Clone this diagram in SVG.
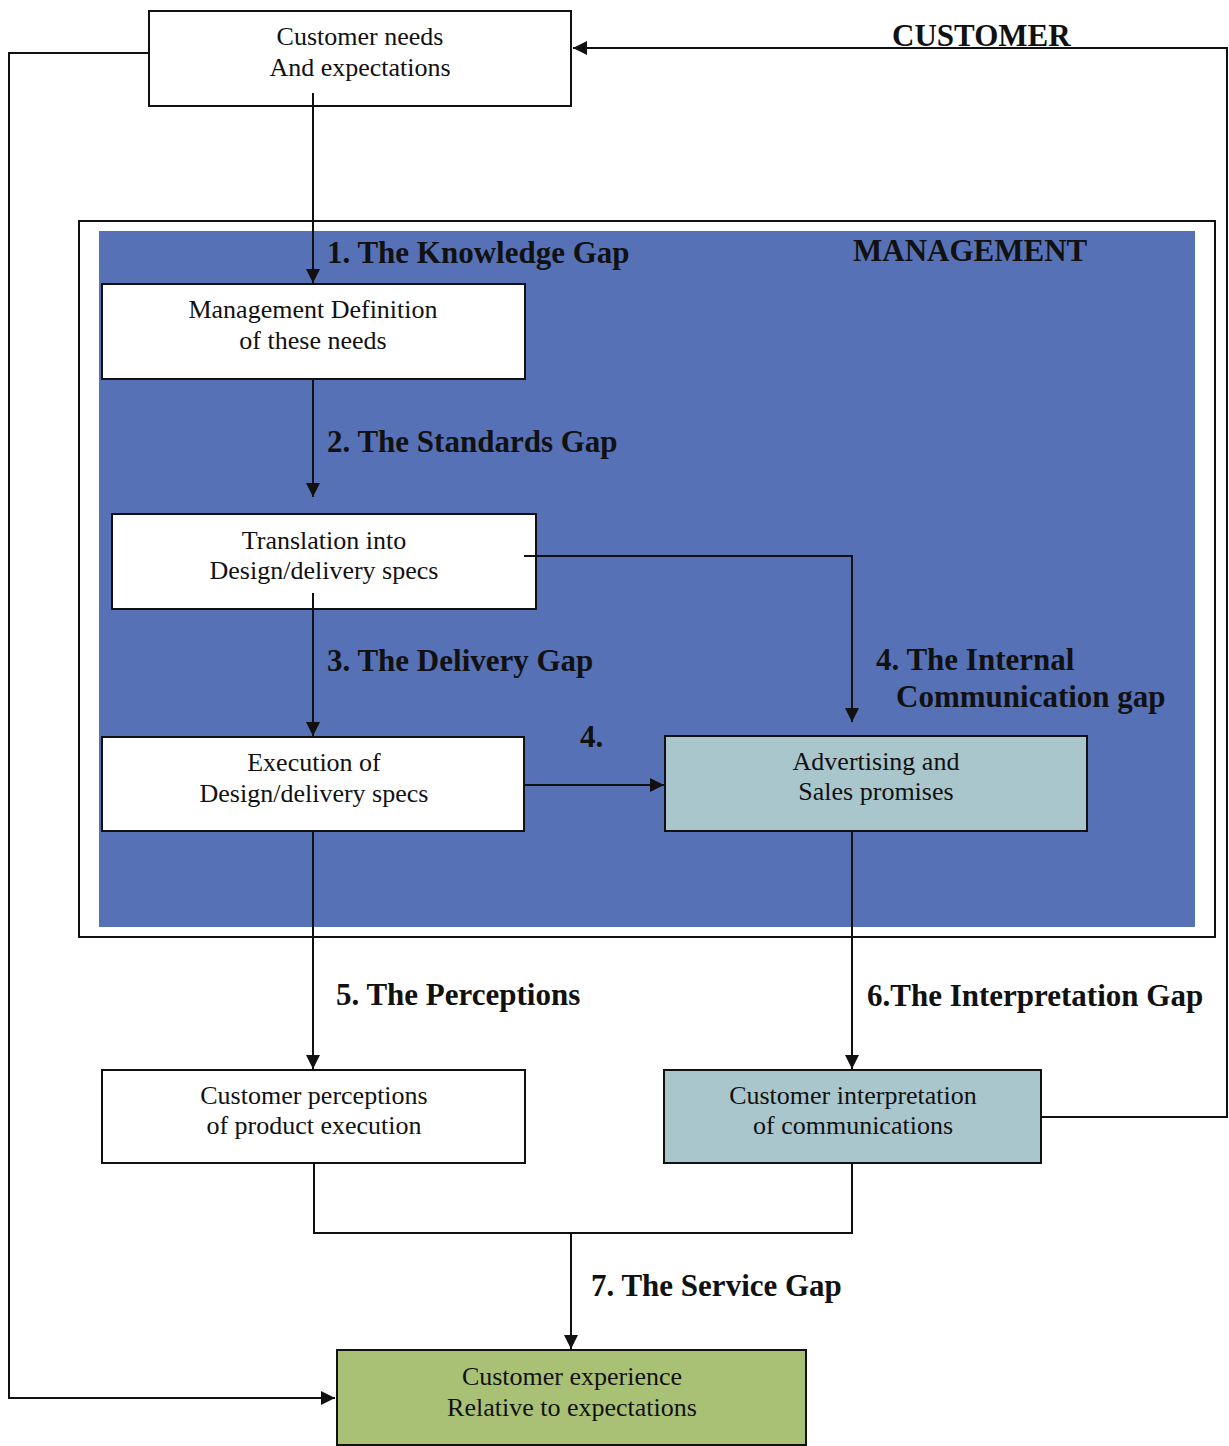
<svg xmlns="http://www.w3.org/2000/svg" width="1229" height="1446" viewBox="0 0 1229 1446">
<defs>
<marker id="ah" viewBox="0 0 10 10" refX="10" refY="5" markerWidth="14" markerHeight="14" markerUnits="userSpaceOnUse" orient="auto">
<path d="M0,0 L10,5 L0,10 z" fill="#111"/>
</marker>
<style>
.box{stroke:#111;stroke-width:2}
.w{fill:#fff}
.c{fill:#a9c6cd}
.g{fill:#a9c174}
.t{font-family:"Liberation Serif",serif;font-size:26px;fill:#111;text-anchor:middle}
.lb{font-family:"Liberation Serif",serif;font-size:31px;font-weight:bold;fill:#111}
.ln{fill:none;stroke:#111;stroke-width:2}
</style>
</defs>
<rect width="1229" height="1446" fill="#fff"/>
<g id="management-frame">
<rect x="79" y="221" width="1136" height="716" fill="#fff" stroke="#111" stroke-width="2"/>
<rect x="99" y="231" width="1096" height="696" fill="#5771b6"/>
<text class="lb" x="853" y="261" font-size="30">MANAGEMENT</text>
</g>
<g id="customer-label"><text class="lb" x="892" y="46">CUSTOMER</text></g>
<g id="customer-needs">
<rect class="box w" x="149" y="11" width="422" height="95"/>
<text class="t" x="360" y="45">Customer needs</text>
<text class="t" x="360" y="76">And expectations</text>
</g>
<g id="management-definition">
<rect class="box w" x="102" y="284" width="423" height="95"/>
<text class="t" x="313" y="318">Management Definition</text>
<text class="t" x="313" y="349">of these needs</text>
</g>
<g id="translation">
<rect class="box w" x="112" y="514" width="424" height="95"/>
<text class="t" x="324" y="549">Translation into</text>
<text class="t" x="324" y="579">Design/delivery specs</text>
</g>
<g id="execution">
<rect class="box w" x="102" y="737" width="422" height="94"/>
<text class="t" x="314" y="771">Execution of</text>
<text class="t" x="314" y="802">Design/delivery specs</text>
</g>
<g id="advertising">
<rect class="box c" x="665" y="736" width="422" height="95"/>
<text class="t" x="876" y="770">Advertising and</text>
<text class="t" x="876" y="800">Sales promises</text>
</g>
<g id="customer-perceptions">
<rect class="box w" x="102" y="1070" width="423" height="93"/>
<text class="t" x="314" y="1104">Customer perceptions</text>
<text class="t" x="314" y="1134">of product execution</text>
</g>
<g id="customer-interpretation">
<rect class="box c" x="664" y="1070" width="377" height="93"/>
<text class="t" x="853" y="1104">Customer interpretation</text>
<text class="t" x="853" y="1134">of communications</text>
</g>
<g id="customer-experience">
<rect class="box g" x="337" y="1350" width="469" height="95"/>
<text class="t" x="572" y="1385">Customer experience</text>
<text class="t" x="572" y="1416">Relative to expectations</text>
</g>
<g id="connectors">
<polyline class="ln" points="149,53 9,53 9,1398 335,1398" marker-end="url(#ah)"/>
<polyline class="ln" points="1041,1117 1227,1117 1227,48 573,48" marker-end="url(#ah)"/>
<line class="ln" x1="313" y1="93" x2="313" y2="283" marker-end="url(#ah)"/>
<line class="ln" x1="313" y1="379" x2="313" y2="497" marker-end="url(#ah)"/>
<polyline class="ln" points="524,556 852,556 852,722" marker-end="url(#ah)"/>
<line class="ln" x1="313" y1="593" x2="313" y2="736" marker-end="url(#ah)"/>
<line class="ln" x1="524" y1="785" x2="664" y2="785" marker-end="url(#ah)"/>
<line class="ln" x1="313" y1="831" x2="313" y2="1069" marker-end="url(#ah)"/>
<line class="ln" x1="852" y1="831" x2="852" y2="1069" marker-end="url(#ah)"/>
<polyline class="ln" points="314,1163 314,1233 852,1233 852,1163"/>
<line class="ln" x1="571" y1="1233" x2="571" y2="1349" marker-end="url(#ah)"/>
<text class="lb" x="327" y="263">1. The Knowledge Gap</text>
<text class="lb" x="327" y="452">2. The Standards Gap</text>
<text class="lb" x="327" y="671">3. The Delivery Gap</text>
<text class="lb" x="580" y="747" font-size="22">4.</text>
<text class="lb" x="876" y="670">4. The Internal</text>
<text class="lb" x="896" y="707">Communication gap</text>
<text class="lb" x="336" y="1005">5. The Perceptions</text>
<text class="lb" x="867" y="1006">6.The Interpretation Gap</text>
<text class="lb" x="591" y="1296">7. The Service Gap</text>
</g>
</svg>
